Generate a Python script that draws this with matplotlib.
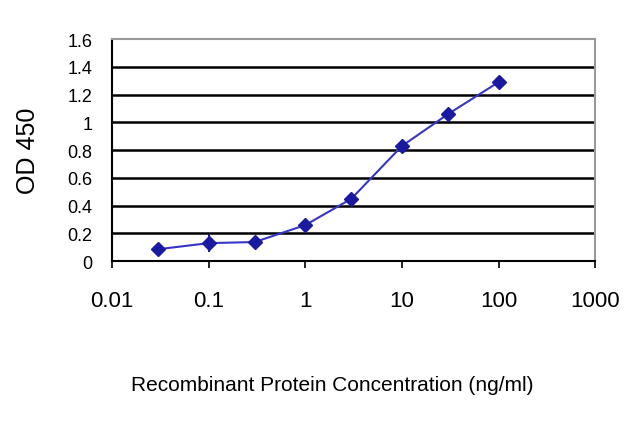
import matplotlib
matplotlib.use("Agg")
import matplotlib.pyplot as plt

plt.rcParams['font.family'] = ['Liberation Sans', 'DejaVu Sans']

# standard curve readings
conc = [0.03, 0.1, 0.3, 1, 3, 10, 30, 100]
od = [0.086, 0.13, 0.138, 0.26, 0.45, 0.83, 1.06, 1.29]
err = [0.0, 0.065, 0.02, 0.02, 0.02, 0.02, 0.03, 0.04]
xticks = [0.01, 0.1, 1, 10, 100, 1000]
xtick_labels = ["0.01", "0.1", "1", "10", "100", "1000"]
yticks = [0, 0.2, 0.4, 0.6, 0.8, 1, 1.2, 1.4, 1.6]
ytick_labels = ["0", "0.2", "0.4", "0.6", "0.8", "1", "1.2", "1.4", "1.6"]

fig = plt.figure(figsize=(6.4, 4.27), dpi=100)
ax = fig.add_axes([0.175, 0.386, 0.755, 0.52])

for y in yticks[1:-1]:
    ax.axhline(y, color='black', lw=1.8, zorder=1)

ax.errorbar(conc, od, yerr=err, color='#3535c8', lw=1.5, ecolor='#1a1a8c',
            elinewidth=1.5, capsize=0, marker='D', ms=7, mfc='#1a1aa0',
            mec='#1a1aa0', zorder=3)

ax.set_xscale('log')
ax.set_xlim(0.01, 1000)
ax.set_ylim(0, 1.6)
ax.set_xticks(xticks)
ax.set_xticklabels(xtick_labels)
ax.minorticks_off()
ax.set_yticks(yticks)
ax.set_yticklabels(ytick_labels)
ax.tick_params(axis='x', direction='out', length=5, width=1.2, labelsize=16, pad=16)
ax.tick_params(axis='y', length=0, labelsize=13, pad=14)

for side in ['left', 'bottom']:
    ax.spines[side].set_color('black')
    ax.spines[side].set_linewidth(1.5)
for side in ['top', 'right']:
    ax.spines[side].set_color('#999999')
    ax.spines[side].set_linewidth(1.5)

ax.set_ylabel("OD 450", fontsize=18, labelpad=20)
fig.text(0.519, 0.098, "Recombinant Protein Concentration (ng/ml)",
         fontsize=15, ha='center', va='center')

fig.savefig("out.png", dpi=100)
